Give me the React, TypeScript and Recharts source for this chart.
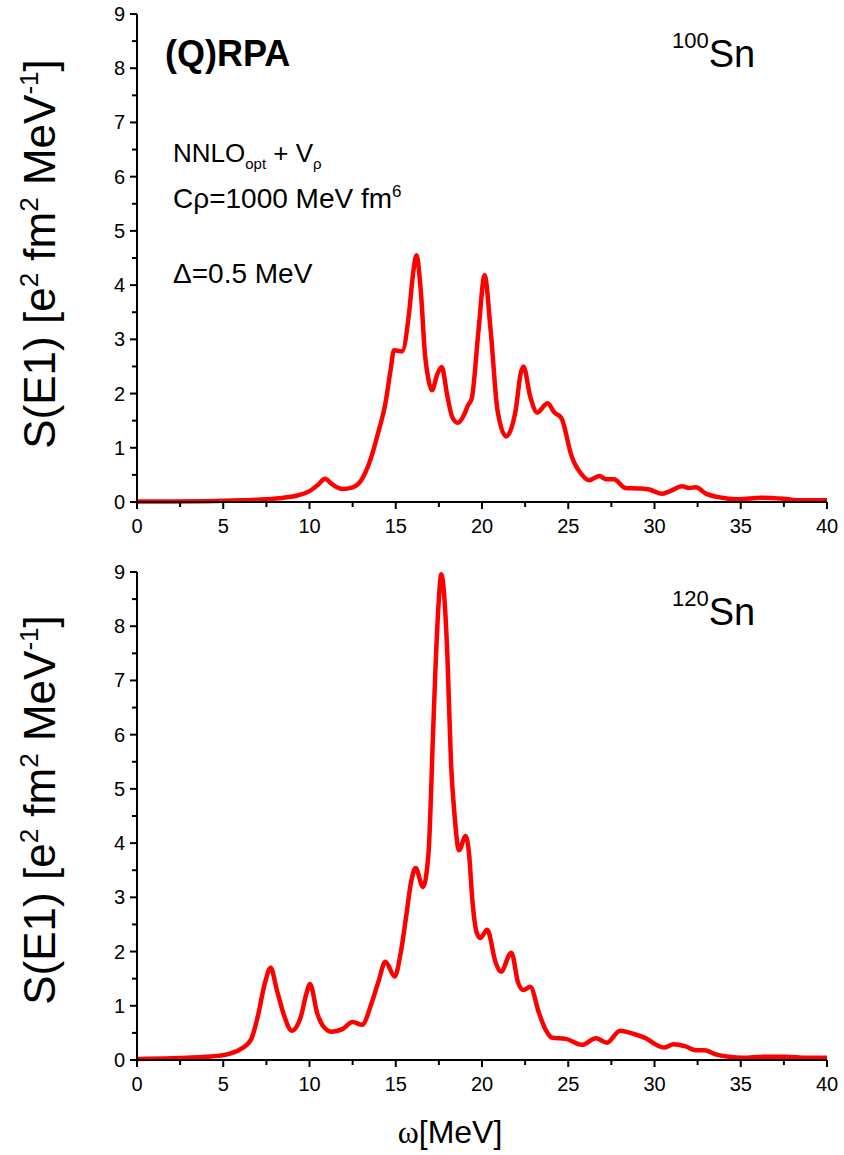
import { Line, LineChart, XAxis, YAxis } from 'recharts';

// 100Sn strength function
const E100 = [
  0, 2, 4, 6, 7.5, 8.5, 9.3, 10, 10.5, 10.9, 11.3, 11.9, 12.5, 13, 13.5, 14, 14.4, 14.7, 14.9,
  15.37, 15.77, 16, 16.2, 16.45, 16.7, 16.9, 17.1, 17.4, 17.66, 18.0, 18.27, 18.6, 18.95, 19.2,
  19.4, 19.8, 20.15, 20.5, 20.9, 21.4, 21.95, 22.24, 22.4, 22.8, 23.2, 23.8, 24.2, 24.6, 25.2,
  25.8, 26.2, 26.8, 27.2, 27.65, 28.3, 29.1, 29.7, 30.4, 30.9, 31.6, 32.0, 32.4, 33.0, 33.7,
  34.9, 36.2, 37.5, 38.4, 40,
];
const S100 = [
  0.01, 0.01, 0.015, 0.03, 0.05, 0.08, 0.12, 0.2, 0.32, 0.43, 0.33, 0.24, 0.27, 0.4, 0.75, 1.3,
  1.82, 2.43, 2.8, 2.78, 3.48, 4.2, 4.55, 3.9, 2.7, 2.25, 2.06, 2.35, 2.49, 1.94, 1.57, 1.46,
  1.6, 1.79, 1.9, 3.17, 4.18, 3.17, 1.69, 1.21, 1.69, 2.37, 2.5, 1.94, 1.65, 1.82, 1.65, 1.55,
  0.84, 0.5, 0.4, 0.48, 0.42, 0.42, 0.26, 0.25, 0.23, 0.15, 0.2, 0.29, 0.26, 0.27, 0.15, 0.09,
  0.05, 0.08, 0.06, 0.03, 0.03,
];

// 120Sn strength function
const E120 = [
  0, 2, 4, 5, 6, 6.6, 7, 7.4, 7.75, 8.1, 8.5, 8.97, 9.5, 9.8, 10.03, 10.45, 10.8, 11.3, 11.9,
  12.5, 13.05, 13.6, 14.0, 14.4, 14.94, 15.3, 15.6, 15.9, 16.15, 16.58, 16.9, 17.16, 17.3, 17.5,
  17.64, 17.8, 18.0, 18.2, 18.4, 18.67, 19.05, 19.25, 19.44, 19.7, 19.9, 20.3, 20.8, 21.1, 21.7,
  22.1, 22.4, 22.8, 23.3, 23.7, 24.07, 24.85, 25.8, 26.6, 27.25, 28.0, 28.7, 29.5, 30.1, 30.55,
  31.1, 31.8, 32.4, 32.9, 33.5, 34.3, 35.1, 36.4, 37.6, 38.8, 40,
];
const S120 = [
  0.02, 0.03, 0.06, 0.09, 0.2, 0.37, 0.8, 1.4, 1.7, 1.3, 0.85, 0.54, 0.8, 1.2, 1.4, 0.86, 0.62,
  0.52, 0.57, 0.7, 0.65, 1.05, 1.45, 1.81, 1.54, 2.0, 2.64, 3.3, 3.54, 3.19, 3.82, 6.0, 7.2, 8.5,
  8.96, 8.6, 7.4, 5.5, 4.55, 3.87, 4.13, 3.8, 2.95, 2.34, 2.25, 2.4, 1.79, 1.63, 1.98, 1.42, 1.29,
  1.35, 0.87, 0.55, 0.41, 0.39, 0.28, 0.4, 0.32, 0.54, 0.49, 0.4, 0.28, 0.23, 0.29, 0.25, 0.18,
  0.18, 0.11, 0.06, 0.04, 0.06, 0.06, 0.04, 0.04,
];

const X_TICKS = [0, 2.5, 5, 7.5, 10, 12.5, 15, 17.5, 20, 22.5, 25, 27.5, 30, 32.5, 35, 37.5, 40];
const Y_TICKS = [0, 0.5, 1, 1.5, 2, 2.5, 3, 3.5, 4, 4.5, 5, 5.5, 6, 6.5, 7, 7.5, 8, 8.5, 9];

const SANS = '"Liberation Sans", Arial, sans-serif';
const RED = '#ff0000';
const CHART_W = 844;
const CHART_H = 540;
const PANEL2_TOP = 558;

function XTick({ x, y, payload }: any) {
  const v = payload.value as number;
  const major = v % 5 === 0;
  return (
    <g>
      <line x1={x} y1={y} x2={x} y2={y + (major ? 7 : 5)} stroke="#000" strokeWidth={2} />
      {major && (
        <text x={x} y={y + 31} textAnchor="middle" fontSize={20} fontFamily={SANS} fill="#000">
          {v}
        </text>
      )}
    </g>
  );
}

function YTick({ x, y, payload }: any) {
  const v = payload.value as number;
  const major = v % 1 === 0;
  return (
    <g>
      <line x1={x} y1={y} x2={x - (major ? 7 : 5)} y2={y} stroke="#000" strokeWidth={2} />
      {major && (
        <text x={x - 12} y={y + 7} textAnchor="end" fontSize={20} fontFamily={SANS} fill="#000">
          {v}
        </text>
      )}
    </g>
  );
}

function Panel({ e, s }: { e: number[]; s: number[] }) {
  const data = e.map((w, i) => ({ w, s: s[i] }));
  return (
    <LineChart
      width={CHART_W}
      height={CHART_H}
      data={data}
      margin={{ top: 14, right: 17, left: 77, bottom: 8 }}
    >
      <XAxis
        type="number"
        dataKey="w"
        domain={[0, 40]}
        ticks={X_TICKS}
        interval={0}
        height={30}
        tickSize={0}
        tickMargin={0}
        tickLine={false}
        axisLine={{ stroke: '#000', strokeWidth: 2 }}
        tick={<XTick />}
      />
      <YAxis
        type="number"
        domain={[0, 9]}
        ticks={Y_TICKS}
        interval={0}
        width={60}
        tickSize={0}
        tickMargin={0}
        tickLine={false}
        axisLine={{ stroke: '#000', strokeWidth: 2 }}
        tick={<YTick />}
      />
      <Line
        type="monotone"
        dataKey="s"
        stroke={RED}
        strokeWidth={4.5}
        dot={false}
        isAnimationActive={false}
      />
    </LineChart>
  );
}

function YLabel({ cx, cy }: { cx: number; cy: number }) {
  return (
    <text
      x={cx}
      y={cy}
      transform={`rotate(-90, ${cx}, ${cy})`}
      textAnchor="middle"
      fontSize={44}
      fontFamily={SANS}
      fill="#000"
    >
      S(E1) [e
      <tspan dy={-17} fontSize={26}>2</tspan>
      <tspan dy={17}> fm</tspan>
      <tspan dy={-17} fontSize={26}>2</tspan>
      <tspan dy={17}> MeV</tspan>
      <tspan dy={-17} fontSize={26}>-1</tspan>
      <tspan dy={17}>]</tspan>
    </text>
  );
}

export default function App() {
  return (
    <div style={{ position: 'absolute', left: 0, top: 0, width: 844, height: 1155, background: '#fff' }}>
      <div style={{ position: 'absolute', left: 0, top: 0 }}>
        <Panel e={E100} s={S100} />
      </div>
      <div style={{ position: 'absolute', left: 0, top: PANEL2_TOP }}>
        <Panel e={E120} s={S120} />
      </div>
      <svg
        width={844}
        height={1155}
        style={{ position: 'absolute', left: 0, top: 0, pointerEvents: 'none' }}
      >
        <YLabel cx={55} cy={254} />
        <YLabel cx={55} cy={810} />

        <text x={165} y={66} fontSize={36} fontWeight="bold" fontFamily={SANS} fill="#000">
          (Q)RPA
        </text>
        <text x={173} y={162} fontSize={26} fontFamily={SANS} fill="#000">
          NNLO
          <tspan dy={7} fontSize={15}>opt</tspan>
          <tspan dy={-7}> + V</tspan>
          <tspan dy={7} fontSize={15}>ρ</tspan>
        </text>
        <text x={173} y={208} fontSize={28} fontFamily={SANS} fill="#000">
          Cρ=1000 MeV fm
          <tspan dy={-11} fontSize={17}>6</tspan>
        </text>
        <text x={173} y={283} fontSize={28} fontFamily={SANS} fill="#000">
          Δ=0.5 MeV
        </text>

        <text x={672} y={67} fontSize={38} fontFamily={SANS} fill="#000">
          <tspan dy={-19} fontSize={22}>100</tspan>
          <tspan dy={19}>Sn</tspan>
        </text>
        <text x={672} y={67 + PANEL2_TOP} fontSize={38} fontFamily={SANS} fill="#000">
          <tspan dy={-19} fontSize={22}>120</tspan>
          <tspan dy={19}>Sn</tspan>
        </text>

        <text x={450} y={1143} textAnchor="middle" fontSize={32} fill="#000">
          <tspan fontFamily='"Liberation Serif", "Times New Roman", serif'>ω</tspan>
          <tspan fontFamily={SANS}>[MeV]</tspan>
        </text>
      </svg>
    </div>
  );
}
